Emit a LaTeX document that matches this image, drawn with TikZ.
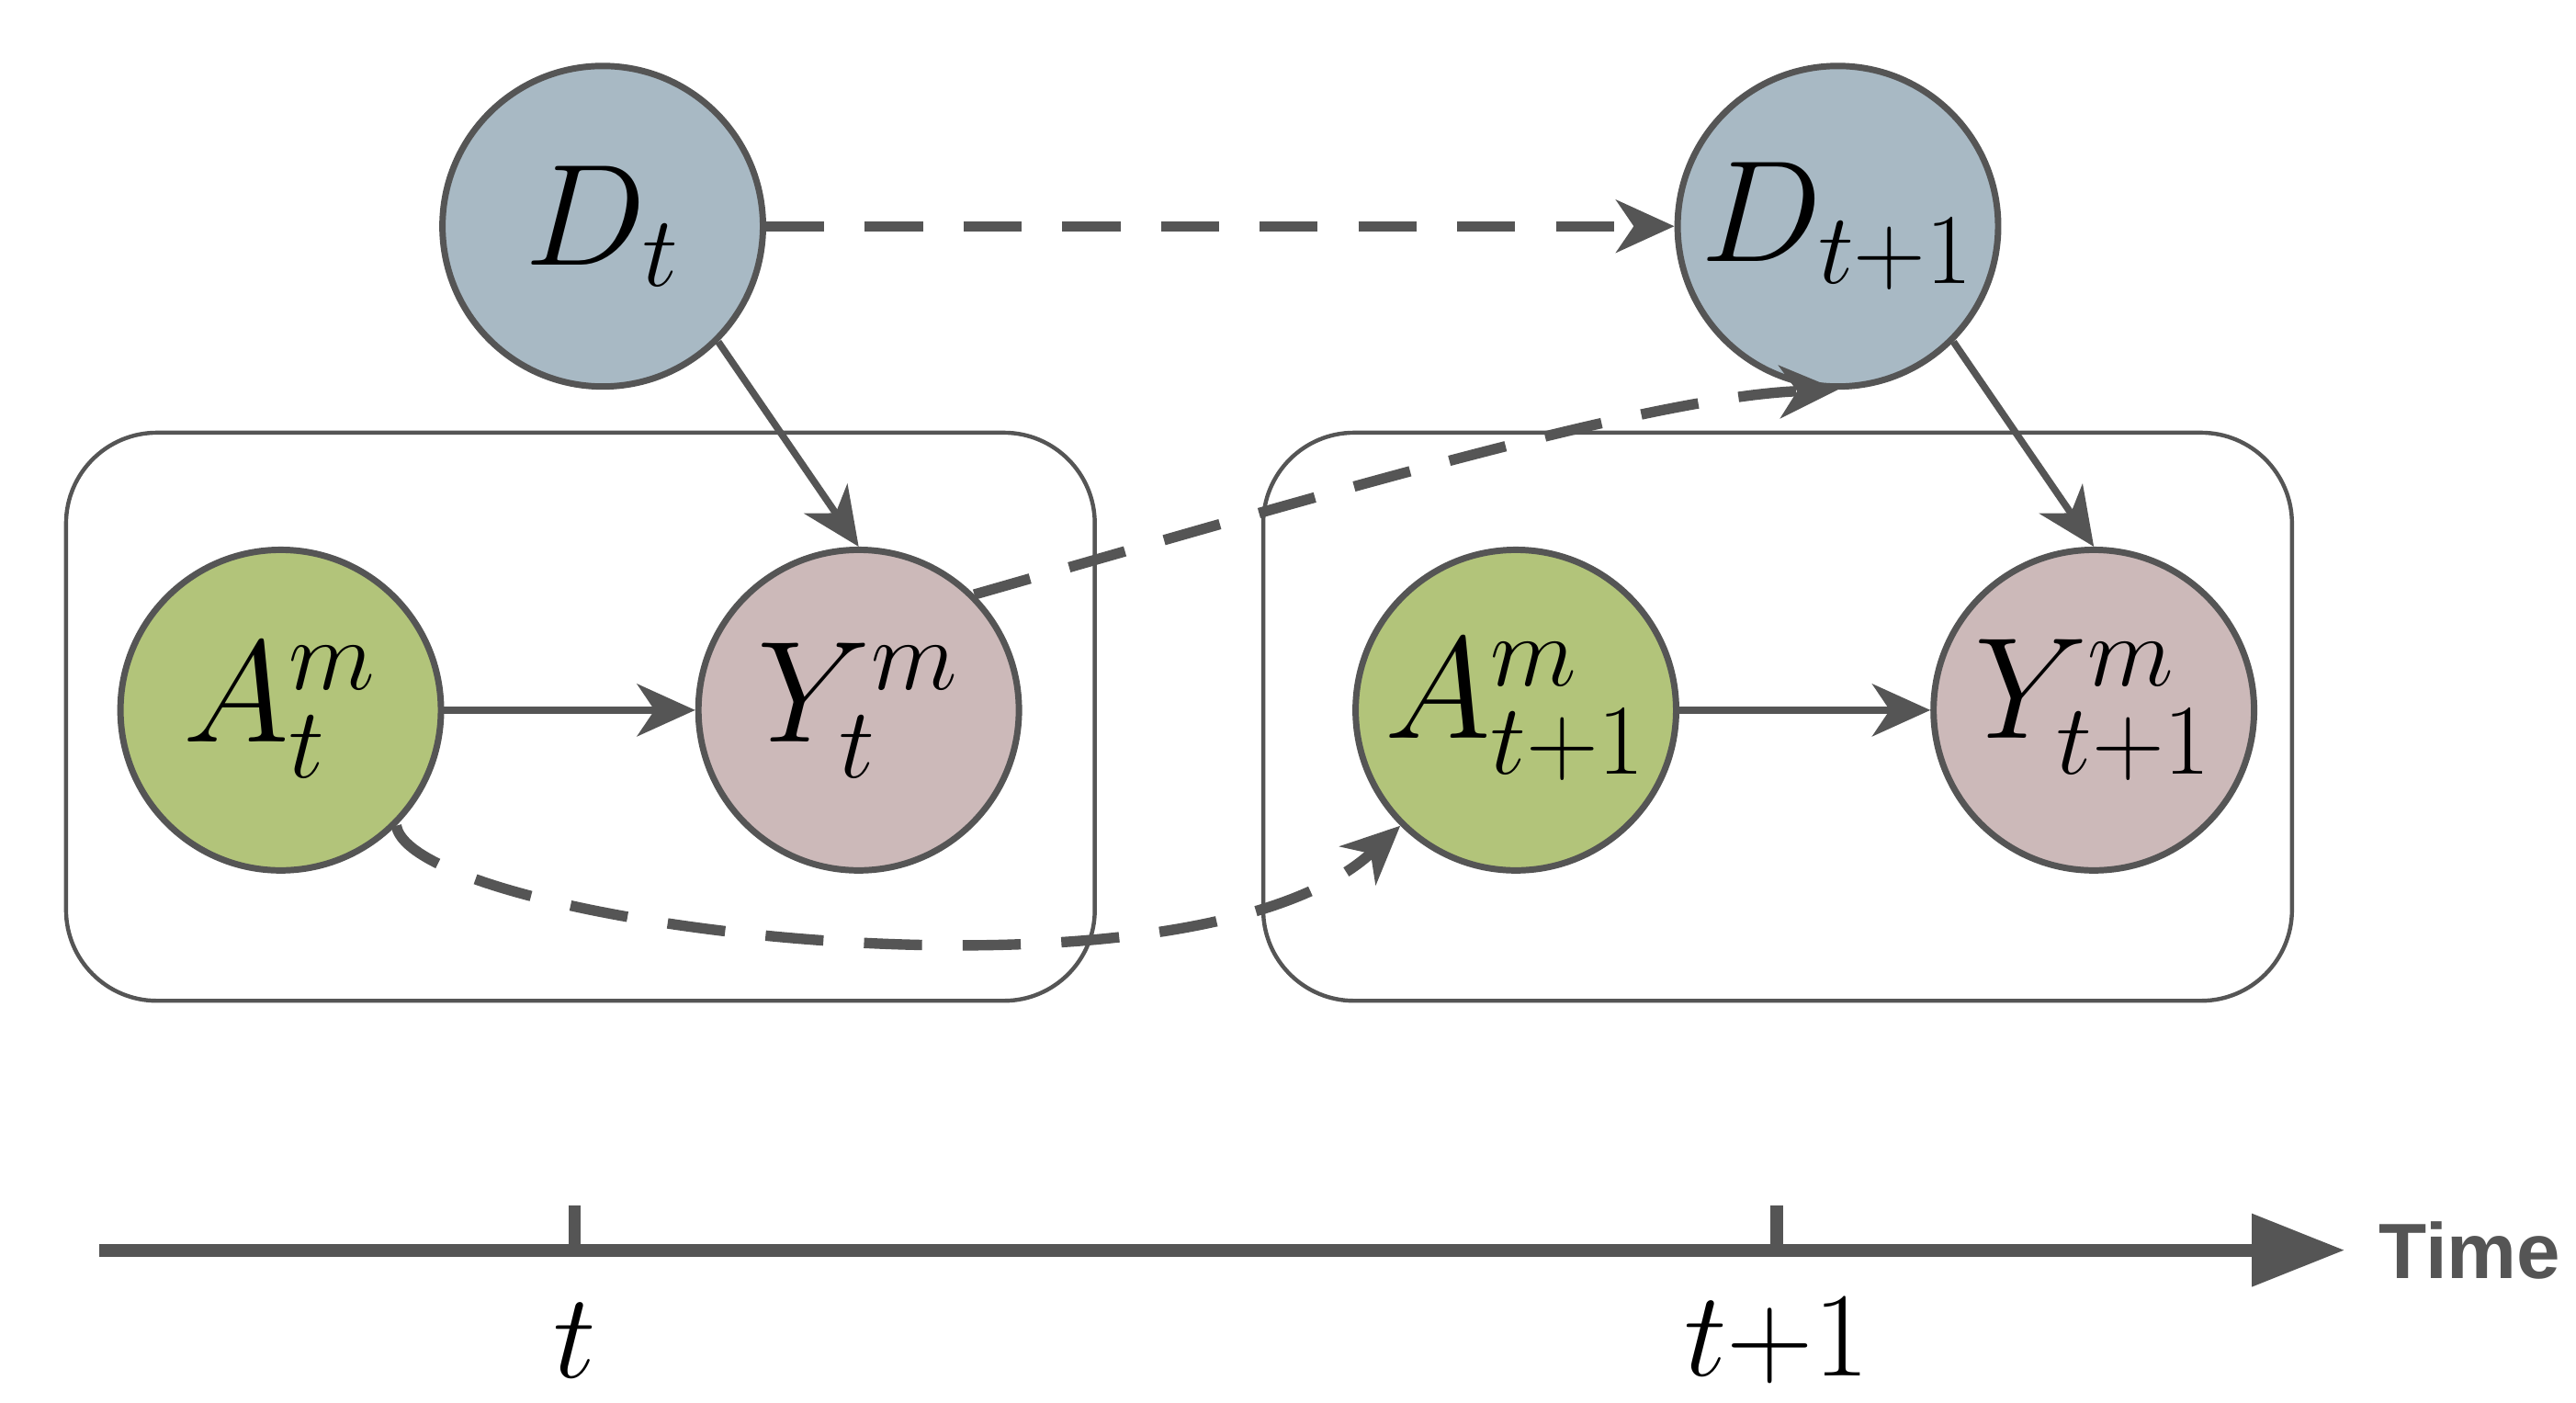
\documentclass[tikz,border=0pt]{standalone}
\usepackage{fontspec}
\usetikzlibrary{arrows.meta}
\newfontfamily\timefont{Liberation Sans}
\definecolor{dgray}{RGB}{85,85,85}
\definecolor{dcol}{RGB}{168,185,196}
\definecolor{acol}{RGB}{178,196,122}
\definecolor{ycol}{RGB}{204,185,185}
\begin{document}
\begin{tikzpicture}[x=0.01cm,y=-0.01cm,
  var/.style={circle,draw=dgray,line width=1.1pt,minimum size=1.94cm,inner sep=0pt,font=\fontsize{23}{26}\selectfont},
  plate/.style={draw=dgray,line width=0.7pt,rounded corners=0.55cm},
  arr/.style={draw=dgray,line width=1.2pt,-{Stealth[length=10pt,width=9pt,inset=3pt]}},
  darr/.style={arr,line width=1.8pt,dash pattern=on 10pt off 7pt}]
\useasboundingbox (0,0) rectangle (1560,849);
\draw[plate] (40,262) rectangle (663,606);
\draw[plate] (765,262) rectangle (1388,606);
\node[var,fill=dcol] (D0) at (365,137) {$D_t$};
\node[var,fill=dcol] (D1) at (1113,137) {$D_{t+1}$};
\node[var,fill=acol] (A0) at (170,430) {$A_t^m$};
\node[var,fill=ycol] (Y0) at (520,430) {$Y_t^m$};
\node[var,fill=acol] (A1) at (918,430) {$A_{t+1}^m$};
\node[var,fill=ycol] (Y1) at (1268,430) {$Y_{t+1}^m$};
\draw[arr] (A0) -- (Y0);
\draw[arr] (A1) -- (Y1);
\draw[arr] (D0.-45) -- (Y0.north);
\draw[arr] (D1.-45) -- (Y1.north);
\draw[darr] (D0) -- (D1);
\draw[darr] (Y0.45) .. controls (800,300) and (1000,240) .. (D1.south);
\draw[darr] (A0.-45) .. controls (250,560) and (720,620) .. (A1.-135);
\coordinate (ax0) at (60,757);
\coordinate (ax1) at (1420,757);
\draw[dgray,line width=2.2pt,-{Triangle[length=16pt,width=12pt]}] (ax0) -- (ax1);
\draw[dgray,line width=2.2pt] (348,757) -- (348,730);
\draw[dgray,line width=2.2pt] (1076,757) -- (1076,730);
\node[font=\fontsize{22}{24}\selectfont] (lt) at (348,812) {$t$};
\node[font=\fontsize{22}{24}\selectfont] (lt1) at (1076,812) {$t{+}1$};
\node[font=\timefont\bfseries\fontsize{13.5}{16}\selectfont,text=dgray,anchor=west,inner sep=0pt] (time) at (1440,757) {Time};
\end{tikzpicture}
\end{document}
